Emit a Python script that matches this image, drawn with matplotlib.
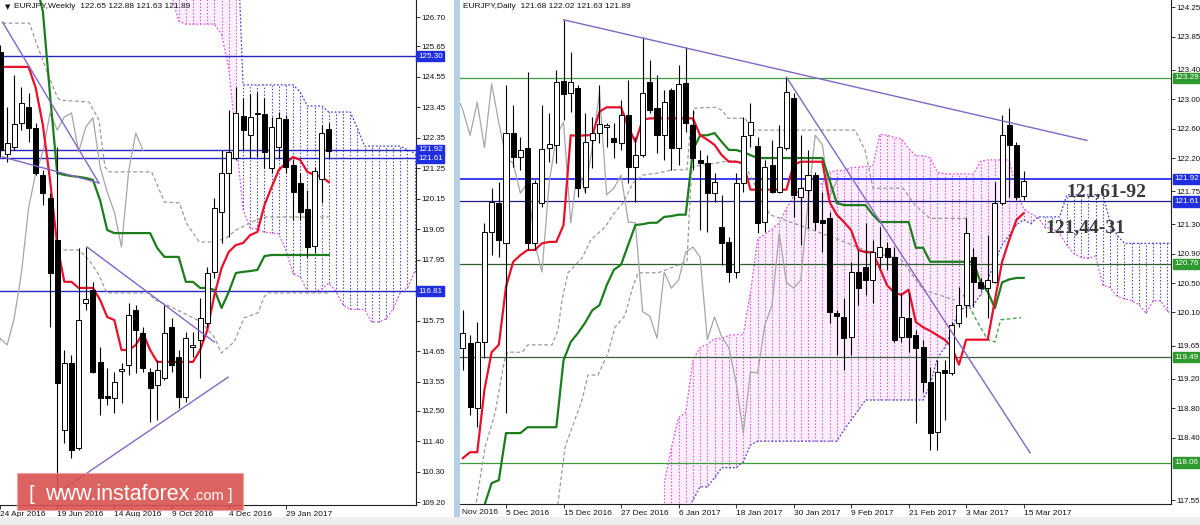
import numpy as np
import matplotlib
matplotlib.use("Agg")
import matplotlib.pyplot as plt
import matplotlib.transforms as mtrans
from matplotlib.patches import Rectangle

plt.rcParams['font.family'] = ['Liberation Sans', 'DejaVu Sans']

# ======================= WEEKLY  (bar 0 = week of 19 Jun 2016) =======================
w_first = -8
w_open = [125.45, 121.77, 122.02, 122.88, 123.46, 122.70, 121.01, 120.18, 118.66, 111.80, 114.22, 111.15,
          116.39, 116.86, 114.26, 113.03, 112.96, 113.93, 114.15, 116.13, 115.30, 113.90, 113.43, 113.68,
          115.52, 114.44, 112.99, 114.80, 115.05, 115.66, 117.51, 119.67, 121.08, 121.62, 123.14, 122.45,
          123.21, 123.21, 121.26, 122.02, 123.03, 121.37, 120.72, 119.78, 118.44, 120.86, 122.65]
w_high = [125.70, 123.46, 124.62, 124.18, 123.97, 122.88, 121.19, 120.36, 122.02, 114.69, 114.51, 118.37,
          118.41, 117.15, 114.80, 114.04, 113.90, 114.22, 116.39, 116.31, 115.52, 114.04, 114.33, 116.31,
          115.85, 114.69, 115.34, 115.34, 116.57, 117.69, 120.18, 121.91, 123.35, 124.18, 123.79, 123.93,
          124.00, 123.79, 123.10, 123.28, 123.17, 121.55, 121.08, 120.47, 121.30, 122.80, 122.88]
w_low = [121.66, 121.48, 121.91, 122.63, 122.20, 121.01, 119.92, 115.52, 109.64, 111.33, 110.79, 111.08,
         116.13, 113.86, 112.34, 112.70, 112.42, 112.78, 113.79, 113.86, 113.90, 112.09, 112.16, 113.61,
         113.90, 112.60, 112.81, 114.44, 113.68, 115.52, 117.29, 118.55, 118.77, 121.55, 121.91, 121.62,
         121.66, 121.26, 121.08, 121.62, 121.08, 119.38, 119.38, 118.05, 118.19, 120.00, 121.63]
w_close = [121.91, 122.16, 122.85, 123.61, 122.70, 121.08, 120.36, 117.47, 113.50, 114.22, 111.08, 115.77,
           116.53, 113.90, 112.96, 112.96, 113.53, 114.00, 115.95, 115.41, 114.04, 113.32, 113.97, 115.30,
           114.15, 112.99, 115.12, 114.87, 115.85, 117.47, 119.82, 121.08, 121.84, 123.25, 122.63, 123.10,
           123.25, 121.84, 122.74, 123.07, 121.30, 120.39, 119.67, 118.41, 121.15, 122.52, 121.89]
w_line_first = -10
w_tenkan = [125.00, 124.91, 124.91, 124.91, 124.91, 124.91, 124.91,
            124.15, 122.81, 120.83, 118.48, 117.15, 117.15, 116.93, 116.93, 116.93, 116.50, 115.88, 115.77, 114.69,
            114.69, 114.87, 115.30, 114.69,
            114.26, 114.26, 114.26, 114.26, 114.26, 114.26,
            114.69, 115.41, 116.68, 117.65, 118.23, 118.48, 118.55, 118.84, 118.95, 119.92, 120.57, 121.19,
            121.44, 121.66, 121.55, 121.12, 121.01, 120.94, 120.75]
w_kijun = [130.00, 128.20, 128.00, 128.00, 128.00, 128.00, 128.00, 128.00, 126.91, 123.90,
           121.08, 121.01, 120.97, 120.94, 120.90, 120.83, 120.10, 119.02,
           118.91, 118.91, 118.91, 118.91, 118.91, 118.91, 118.37, 118.05, 118.05, 118.05,
           117.15, 117.15, 116.93, 116.93, 116.86, 116.21, 116.78, 117.47, 117.51, 117.54, 117.58, 118.08,
           118.12, 118.12, 118.12, 118.12, 118.12, 118.12, 118.12, 118.12, 118.12]
w_spanb_first = 16
w_span_b = [131.0] * 10 + [124.26] * 8 + [124.00] + [123.50] * 3 + [123.28] * 4 + [122.70] + [122.05] * 6 + [121.91, 121.80]
w_kumo_colour = ['pink'] * 10 + ['blue'] * 25
w_levels = [125.30, 121.92, 121.61, 116.81]
w_yticks = [126.70, 125.65, 124.55, 123.45, 122.35, 121.25, 120.15, 119.05, 117.95, 115.75,
            114.65, 113.55, 112.50, 111.40, 110.30, 109.20]
w_xtick_bars = [-8, 0, 8, 16, 24, 32]
w_xtick_labels = ['24 Apr 2016', '19 Jun 2016', '14 Aug 2016', '9 Oct 2016', '4 Dec 2016', '29 Jan 2017']
w_mtf1_bar = [-7.65, -3.89, -3.06, -1.67, 0, 0.42, 4.45, 5.84, 6.68, 7.23, 13.21, 15.02, 17.11, 18.08, 19.89,
              21.97, 23.64, 25.03, 27.82, 29.21, 37.97]
w_mtf1_price = [126.49, 126.49, 125.88, 124.91, 123.82, 123.71, 123.64, 122.99, 121.30, 121.12, 121.12, 120.03,
                120.00, 119.27, 118.59, 118.59, 118.73, 119.02, 119.38, 119.49, 119.49]
w_mtf2_bar = [0, 3.06, 4.45, 5.84, 6.95, 12.80, 13.63, 15.99, 20.17, 21.97, 22.95, 24.76, 26.15, 28.09, 28.93,
              29.49, 37.97]
w_mtf2_price = [118.30, 118.30, 117.94, 117.40, 116.75, 116.75, 116.50, 116.24, 115.70, 115.16, 114.58, 114.98,
                115.85, 116.03, 116.60, 116.75, 116.75]
w_trend_bars = [(-7.65, 5.84), (-7.65, 5.84), (4.17, 21.97), (0.70, 23.92)]
w_trend_prices = [(126.53, 120.72), (121.66, 120.72), (118.41, 114.98), (109.64, 113.71)]

# ======================= DAILY  (bar 0 = 5 Dec 2016) =======================
d_first = -6
d_open = [119.62, 119.68, 118.80, 119.70, 121.19, 121.59, 121.04, 122.54, 122.21, 122.34, 121.04, 121.59,
          122.34, 122.38, 123.25, 123.08, 123.15, 121.81, 122.45, 122.54, 122.62, 122.47, 122.40, 122.79,
          122.08, 122.24, 123.23, 122.88, 122.51, 123.13, 122.34, 123.22, 122.65, 122.17, 122.13, 121.72,
          121.26, 121.06, 120.65, 121.86, 122.51, 122.36, 121.33, 122.11, 121.74, 122.34, 123.02, 121.67,
          121.77, 121.97, 121.36, 121.38, 120.09, 120.04, 119.77, 120.65, 120.72, 120.54, 120.85, 120.98,
          120.85, 119.77, 120.03, 119.79, 119.63, 119.15, 118.47, 119.32, 119.28, 119.96, 120.20, 120.85,
          120.51, 120.43, 120.51, 121.59, 122.65, 122.38, 121.68]
d_high = [120.13, 119.79, 119.97, 121.32, 121.79, 121.87, 123.19, 122.92, 122.49, 123.37, 121.90, 122.92,
          122.81, 123.40, 124.08, 123.64, 123.19, 122.81, 122.76, 123.19, 122.68, 122.68, 122.99, 123.26,
          122.49, 123.85, 123.53, 123.33, 123.13, 123.15, 123.47, 123.71, 122.85, 122.31, 122.24, 122.00,
          121.70, 121.13, 122.00, 122.76, 122.95, 122.49, 122.17, 122.45, 122.65, 123.30, 123.08, 122.51,
          122.31, 122.01, 121.74, 121.47, 120.13, 120.30, 120.79, 120.95, 121.32, 121.09, 121.26, 121.06,
          120.99, 120.37, 120.37, 119.86, 119.73, 119.36, 119.45, 119.45, 119.97, 120.45, 121.38, 120.98,
          120.57, 121.15, 121.87, 122.79, 122.88, 122.42, 122.02]
d_low = [119.32, 118.71, 118.54, 119.48, 120.88, 120.85, 118.73, 122.08, 122.04, 120.95, 120.95, 121.53,
         122.15, 122.13, 122.72, 122.83, 121.67, 121.72, 122.06, 122.40, 122.35, 122.20, 122.31, 121.86,
         121.60, 122.21, 122.81, 122.27, 122.17, 122.04, 122.11, 122.55, 122.04, 121.22, 121.19, 121.60,
         120.75, 120.51, 120.57, 121.74, 122.35, 121.18, 121.19, 121.72, 121.72, 122.31, 121.40, 121.02,
         121.25, 121.22, 120.92, 119.96, 119.52, 119.32, 119.52, 120.20, 120.34, 120.23, 120.70, 120.68,
         119.70, 119.70, 119.56, 118.60, 119.02, 118.23, 118.23, 118.64, 119.25, 119.90, 120.04, 120.17,
         120.41, 120.03, 120.50, 121.56, 121.67, 121.63, 121.63]
d_close = [119.82, 118.82, 119.70, 121.19, 121.60, 121.09, 122.54, 122.21, 122.31, 121.04, 121.86, 122.32,
           122.39, 123.23, 123.07, 123.23, 121.79, 122.42, 122.54, 122.66, 122.65, 122.42, 122.79, 122.08,
           122.24, 123.08, 122.85, 122.51, 122.96, 122.34, 123.21, 122.68, 122.20, 122.13, 121.72, 121.87,
           121.04, 120.65, 121.86, 122.50, 122.69, 121.32, 122.08, 121.74, 122.35, 123.10, 121.70, 121.79,
           121.97, 121.33, 121.32, 120.11, 120.05, 119.75, 120.65, 120.43, 120.54, 120.92, 120.99, 120.85,
           119.73, 120.04, 119.77, 119.62, 119.15, 118.46, 119.29, 119.28, 119.93, 120.20, 121.18, 120.51,
           120.43, 120.54, 121.59, 122.51, 122.38, 121.67, 121.89]
d_line_first = -6
d_tenkan = [118.12, 118.20, 118.20, 119.05, 119.56, 119.66, 120.45, 120.79, 120.88, 120.95, 120.95, 121.04,
            121.06, 121.06, 121.29, 122.51, 122.50, 122.51, 122.51, 122.83, 122.89, 122.89, 122.89, 122.62,
            122.42, 122.72] + [122.74] * 7 + [122.51, 122.45, 122.38, 122.24, 122.15, 122.15, 122.13] + \
           [121.77] * 6 + [122.11] + [122.15] * 4 + \
           [121.60, 121.43, 121.33, 121.22, 120.95, 120.92, 120.92, 120.70, 120.47, 120.37, 120.34, 120.41,
            119.97, 119.90, 119.85, 119.79, 119.73, 119.63, 119.39] + [119.73] * 4 + \
           [120.27, 120.79, 121.09, 121.36, 121.45]
d_kijun = [117.01, 117.14, 117.35, 117.48, 117.78, 117.82, 118.46, 118.46, 118.46, 118.54, 118.54, 118.54,
           118.54, 118.54,
           119.45, 119.70, 119.82, 119.96, 120.13, 120.20, 120.47, 120.68, 120.75, 121.02, 121.29, 121.30,
           121.32, 121.32, 121.40, 121.41, 121.43, 121.43,
           122.31, 122.51, 122.51, 122.54, 122.42, 122.31, 122.31, 122.28, 122.24] + [122.20] * 10 + \
          [121.90, 121.59, 121.56, 121.56, 121.56, 121.56, 121.43, 121.33, 121.33, 121.33, 121.33, 121.33] + \
          [120.98, 120.98] + [120.79] * 7 + [120.51, 120.38, 120.16, 120.51, 120.55, 120.57, 120.57]
d_spanb_first = 22
d_span_b = [117.01, 117.01, 117.14, 117.35, 117.55, 117.73, 117.73, 117.85, 117.99, 117.99, 117.99, 118.07,
            118.30] + [118.35] * 12 + [118.50, 118.64, 118.77] + [118.91] * 9 + \
           [119.11, 119.48, 119.62, 119.86, 120.13, 120.17, 120.20, 120.34, 120.54, 120.79, 121.02, 121.15,
            121.29, 121.36] + \
           [121.31, 121.40, 121.40, 121.40, 121.40] + [121.70] * 6 + [121.34, 121.15] + [121.04] * 11 + [120.97, 120.97]
d_green_levels = [123.29, 120.76, 119.49, 118.06]
d_blue_levels = [121.92, 121.61]
d_yticks = [124.25, 123.85, 123.40, 123.00, 122.60, 122.20, 121.75, 121.30, 120.90, 120.50, 120.10, 119.65,
            119.20, 118.80, 118.40, 117.55]
d_xtick_bars = [0, 8, 16, 24, 32, 40, 48, 56, 64, 72]
d_xtick_labels = ['5 Dec 2016', '15 Dec 2016', '27 Dec 2016', '6 Jan 2017', '18 Jan 2017', '30 Jan 2017',
                  '9 Feb 2017', '21 Feb 2017', '3 Mar 2017', '15 Mar 2017']
d_mtf1_bar = [-4.4, -2.92, -1.53, -0.14, 0.28, 2.23, 3.06, 6.40, 7.23, 7.79, 8.62, 10.57, 11.82, 13.77, 14.88,
              16.27, 17.66, 19.05, 21.42, 23.09, 25.17, 25.59, 26.29, 29.07, 30.04, 30.88, 33.24, 34.35, 48.54,
              49.93, 51.04, 55.22, 56.88, 58.97, 64.12]
d_mtf1_price = [117.35, 118.27, 118.73, 119.49, 119.56, 119.56, 119.66, 119.66, 119.86, 120.27, 120.64, 120.84,
                121.09, 121.26, 121.43, 121.59, 121.86, 121.97, 122.00, 122.04, 122.04, 122.54, 122.88, 122.89,
                122.85, 122.74, 122.74, 122.58, 122.58, 122.31, 121.79, 121.79, 121.56, 121.38, 121.38]
d_mtf2_bar = [7.09, 8.21, 10.57, 11.40, 12.80, 14.19, 15.16, 16.55, 17.52, 18.36, 21.14, 25.17, 25.59, 25.87,
              31.57, 33.24, 34.91, 36.7, 45.76, 50.9, 54.8, 58.0, 62.4]
d_mtf2_price = [117.40, 118.27, 118.91, 119.25, 119.25, 119.55, 119.90, 120.06, 120.41, 120.64, 120.64, 120.79,
                121.63, 122.08, 122.17, 122.11, 121.77, 121.43, 121.11, 120.91, 120.84, 120.41, 120.27]
d_mtf3_bar = [63.6, 65.4, 67.0, 68.0, 68.8, 71.6]
d_mtf3_price = [120.34, 120.00, 119.73, 119.70, 120.00, 120.03]
d_trend_bars = [(8.0, 80.8), (39.0, 72.9)]
d_trend_prices = [(124.08, 122.44), (123.30, 118.19)]

# ======================= styling =======================
RED = '#e8102a'
GREEN = '#1b7d1b'
CHIKOU = '#a6a6a6'
PINK = '#e055e0'
BLUE = '#4646cc'
TREND = '#8466c4'
MTF = '#9a9a9a'

fig = plt.figure(figsize=(12, 5.25), dpi=100)
fig.patch.set_facecolor('white')

axw = fig.add_axes([0.0, 20 / 525, 416 / 1200, 505 / 525])
axd = fig.add_axes([460 / 1200, 21 / 525, 711 / 1200, 504 / 525])


def setup(ax, xlim, ylim, yticks, xbars, xlabels):
    ax.set_xlim(*xlim)
    ax.set_ylim(*ylim)
    for s in ['left', 'top']:
        ax.spines[s].set_visible(False)
    for s in ['right', 'bottom']:
        ax.spines[s].set_linewidth(0.8)
        ax.spines[s].set_color('#202020')
    ax.yaxis.tick_right()
    ax.set_yticks(yticks)
    ax.set_yticklabels([f'{v:.2f}' for v in yticks])
    ax.set_xticks(xbars)
    ax.set_xticklabels(xlabels, ha='left')
    ax.tick_params(axis='y', length=3, width=0.6, pad=1.2, labelsize=5.7, colors='#111111')
    ax.tick_params(axis='x', length=3, width=0.6, pad=1.5, labelsize=6, colors='#111111')


def draw_cloud(ax, line_first, tenkan, kijun, b_first, span_b, colours=None):
    t = np.array(tenkan)
    k = np.array(kijun)
    a_all = (t + k) / 2.0
    xb = np.arange(b_first, b_first + len(span_b))
    A = a_all[xb - 26 - line_first]
    B = np.array(span_b)
    if colours is None:
        colours = ['pink' if a > b else 'blue' for a, b in zip(A, B)]
    pink = np.array([c == 'pink' for c in colours])
    ax.fill_between(xb, A, B, where=pink, color='#fdeefd', lw=0, zorder=0.5)
    cols = [PINK if c == 'pink' else BLUE for c in colours]
    ax.vlines(xb, np.minimum(A, B), np.maximum(A, B), colors=cols, linestyles=(0, (1.3, 1.7)),
              lw=0.8, zorder=1)
    ax.plot(xb, A, color=PINK, lw=0.9, ls=(0, (1.5, 1.5)), zorder=1.2)
    ax.plot(xb, B, color=BLUE, lw=0.9, ls=(0, (1.5, 1.5)), zorder=1.2)


def draw_candles(ax, first, o, h, l, c, width=0.7):
    o, h, l, c = map(np.array, (o, h, l, c))
    x = np.arange(first, first + len(o))
    ax.vlines(x, l, h, colors='black', lw=0.8, zorder=5)
    bottom = np.minimum(o, c)
    height = np.maximum(np.abs(c - o), 0.012)
    faces = ['white' if cc >= oo else 'black' for oo, cc in zip(o, c)]
    ax.bar(x, height, width=width, bottom=bottom, color=faces, edgecolor='black', linewidth=0.7, zorder=6)


def draw_lines(ax, first, close, line_first, tenkan, kijun):
    xl = np.arange(line_first, line_first + len(tenkan))
    xc = np.arange(first, first + len(close)) - 26
    ax.plot(xc, close, color=CHIKOU, lw=0.9, zorder=3)
    ax.plot(xl, kijun, color=GREEN, lw=1.6, zorder=4)
    ax.plot(xl, tenkan, color=RED, lw=1.6, zorder=4.1)


def right_label(ax, y, text, bg):
    trans = mtrans.blended_transform_factory(ax.transAxes, ax.transData)
    ax.text(1.005, y, text, transform=trans, ha='left', va='center', fontsize=5.8, color='white',
            bbox=dict(boxstyle='square,pad=0.2', fc=bg, ec=bg), zorder=20, clip_on=False)


# ---------------- weekly panel ----------------
setup(axw, (-7.65, 50.2), (109.094, 127.325), w_yticks, w_xtick_bars, w_xtick_labels)
draw_cloud(axw, w_line_first, w_tenkan, w_kijun, w_spanb_first, w_span_b, w_kumo_colour)
for lv in w_levels:
    axw.axhline(lv, color='#2626c4', lw=1.0, zorder=2)
axw.plot(w_mtf1_bar, w_mtf1_price, color=MTF, lw=0.9, ls=(0, (3, 2)), zorder=2.2)
axw.plot(w_mtf2_bar, w_mtf2_price, color=MTF, lw=0.9, ls=(0, (3, 2)), zorder=2.2)
draw_lines(axw, w_first, w_close, w_line_first, w_tenkan, w_kijun)
draw_candles(axw, w_first, w_open, w_high, w_low, w_close)
for bx, py in zip(w_trend_bars, w_trend_prices):
    axw.plot(bx, py, color=TREND, lw=1.0, zorder=7)
for lv in w_levels:
    right_label(axw, lv, f'{lv:.2f}', '#1f2fe0')

# ---------------- daily panel ----------------
setup(axd, (-6.40, 92.49), (117.496, 124.349), d_yticks, d_xtick_bars, d_xtick_labels)
draw_cloud(axd, d_line_first, d_tenkan, d_kijun, d_spanb_first, d_span_b)
green_cols = ['#3c9c3c', '#2e5e2e', '#3a5f3a', '#3c9c3c']
for lv, gc in zip(d_green_levels, green_cols):
    axd.axhline(lv, color=gc, lw=0.9, zorder=2)
axd.axhline(d_blue_levels[0], color='#3a3aff', lw=1.4, zorder=2)
axd.axhline(d_blue_levels[1], color='#1c1c8c', lw=0.9, zorder=2)
axd.plot(d_mtf1_bar, d_mtf1_price, color=MTF, lw=0.9, ls=(0, (3, 2)), zorder=2.2)
axd.plot(d_mtf2_bar, d_mtf2_price, color=MTF, lw=0.9, ls=(0, (3, 2)), zorder=2.2)
axd.plot(d_mtf3_bar, d_mtf3_price, color='#3c9c3c', lw=0.9, ls=(0, (3, 2)), zorder=2.2)
draw_lines(axd, d_first, d_close, d_line_first, d_tenkan, d_kijun)
draw_candles(axd, d_first, d_open, d_high, d_low, d_close)
for bx, py in zip(d_trend_bars, d_trend_prices):
    axd.plot(bx, py, color=TREND, lw=1.0, zorder=7)
for lv in d_green_levels:
    right_label(axd, lv, f'{lv:.2f}', '#2e9a2e')
for lv in d_blue_levels:
    right_label(axd, lv, f'{lv:.2f}', '#1f2fe0')

axd.text(78.0, 121.68, '121,61-92', family=['Liberation Serif', 'DejaVu Serif'], fontweight='bold',
         fontsize=14, color='#383838', va='baseline', ha='left', zorder=25)
axd.text(75.0, 121.19, '121,44-31', family=['Liberation Serif', 'DejaVu Serif'], fontweight='bold',
         fontsize=14, color='#383838', va='baseline', ha='left', zorder=25)

# ---------------- frame decorations ----------------
def px(x, y):
    return x / 1200, 1 - y / 525

fig.patches.append(Rectangle(px(454, 525), 6 / 1200, 1, transform=fig.transFigure, fc='#b8cfe8',
                             ec='none', zorder=0))
fig.patches.append(Rectangle(px(0, 525), 1, 8 / 525, transform=fig.transFigure, fc='#eeeeee',
                             ec='none', zorder=0))
fig.text(*px(5, 7), '▼', fontsize=5, family='DejaVu Sans', va='center', ha='left', color='#111111')
fig.text(*px(14, 7), 'EURJPY,Weekly  122.65 122.88 121.63 121.89', fontsize=6, va='center', ha='left',
         color='#111111')
fig.text(*px(463, 6), 'EURJPY,Daily  121.68 122.02 121.63 121.89', fontsize=6, va='center', ha='left',
         color='#111111')
fig.text(*px(462, 513), 'Nov 2016', fontsize=6, va='center', ha='left', color='#111111')

# watermark
fig.patches.append(Rectangle(px(17, 510), 226 / 1200, 37 / 525, transform=fig.transFigure,
                             fc='#d9534f', ec='#f0a0a0', lw=0.8, alpha=0.9, zorder=30))
fig.text(*px(28, 500), '[', fontsize=15, color='white', va='baseline', ha='left', zorder=31)
fig.text(*px(45, 500), 'www.instaforex', fontsize=15.5, color='white', va='baseline', ha='left', zorder=31)
fig.text(*px(193, 500), '.com', fontsize=10.5, color='white', va='baseline', ha='left', zorder=31)
fig.text(*px(228, 500), ']', fontsize=12, color='white', va='baseline', ha='left', zorder=31)

fig.savefig('out.png', dpi=100)
